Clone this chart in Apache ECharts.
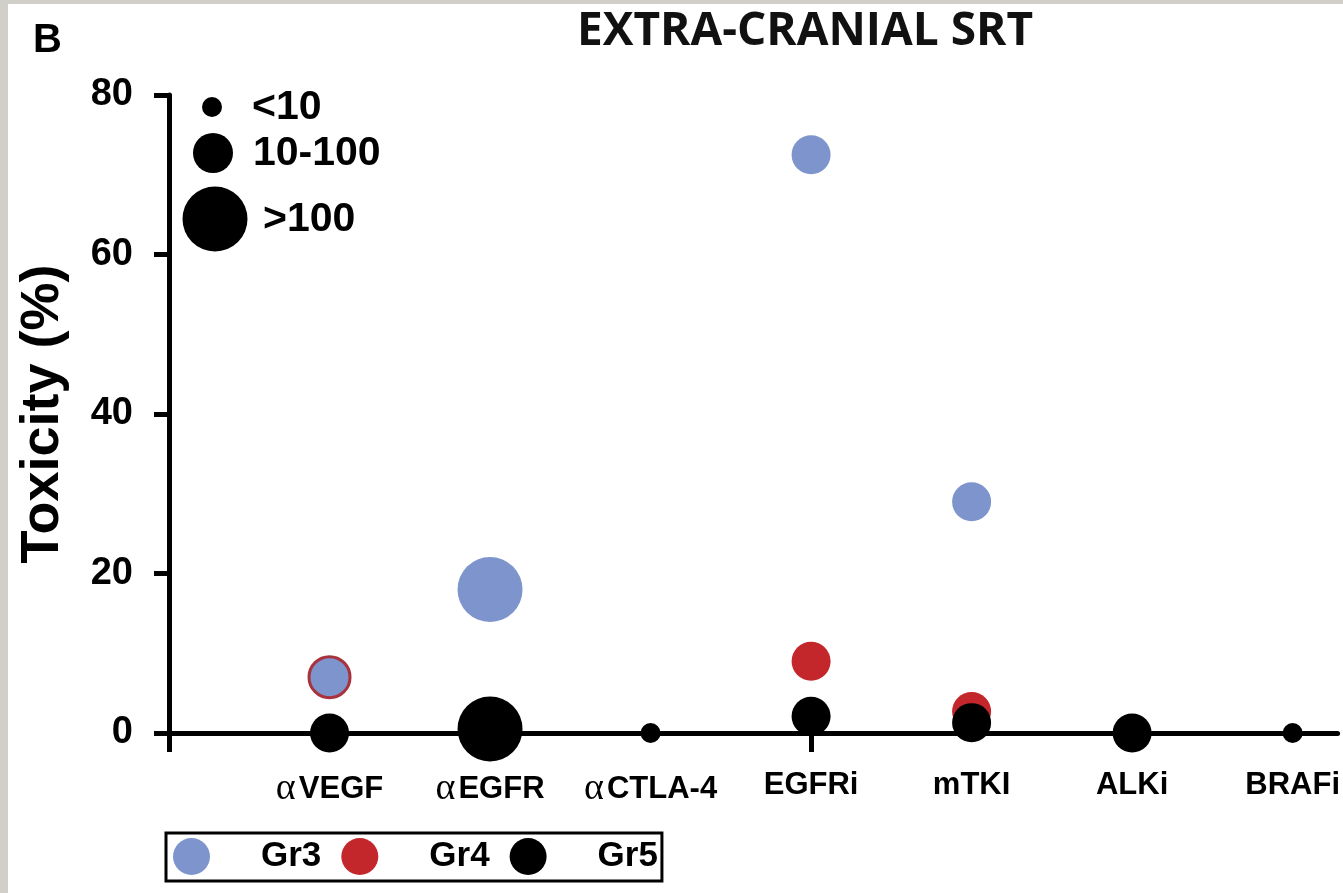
<!DOCTYPE html>
<html>
<head>
<meta charset="utf-8">
<script src="https://cdn.jsdelivr.net/npm/echarts@6/dist/echarts.min.js"></script>
<style>
html,body{margin:0;padding:0;background:#fff;}
#chart{width:1343px;height:893px;}
</style>
</head>
<body>
<div id="chart"></div>
<script>
// ---- data ----
const categories = ['αVEGF', 'αEGFR', 'αCTLA-4', 'EGFRi', 'mTKI', 'ALKi', 'BRAFi'];
const gr3 = [7, 18, null, 72.5, 29, null, null];
const gr3N = ['10-100', '>100', null, '10-100', '10-100', null, null];
const gr4 = [7, null, null, 9, 2.7, null, null];
const gr4N = ['10-100', null, null, '10-100', '10-100', null, null];
const gr5 = [0, 0.5, 0, 2.1, 1.3, 0, 0];
const gr5N = ['10-100', '>100', '<10', '10-100', '10-100', '10-100', '<10'];
const yTicks = [0, 20, 40, 60, 80];
const sizeClasses = ['<10', '10-100', '>100'];
const seriesNames = ['Gr3', 'Gr4', 'Gr5'];

// ---- styles ----
const colors = { Gr3: '#7d95cc', Gr4: '#c3272b', Gr5: '#000000' };
const sizePx = { '<10': 20, '10-100': 39, '>100': 65 };
const legendSizePx = { '<10': 20, '10-100': 40, '>100': 65 };
const SANS = '"Liberation Sans", Arial, sans-serif';

function buildData(vals, ns, overlapVals, overlapColor) {
  const out = [];
  vals.forEach((v, i) => {
    if (v === null) return;
    const item = { value: [i + 1, v], symbolSize: sizePx[ns[i]] };
    if (overlapVals && overlapVals[i] === v) {
      item.symbolSize = sizePx[ns[i]] + 2;
      item.itemStyle = { borderColor: overlapColor, borderWidth: 3 };
    }
    out.push(item);
  });
  return out;
}

const chart = echarts.init(document.getElementById('chart'), null, { renderer: 'canvas' });

// size legend (graphic)
let sy = [107, 153, 219];
let sx = [212, 213, 215];
let tx = [252, 253, 263];
const sizeLegend = [];
sizeClasses.forEach((c, i) => {
  sizeLegend.push({
    type: 'circle', shape: { cx: sx[i], cy: sy[i], r: legendSizePx[c] / 2 },
    style: { fill: '#000' }, z: 10
  });
  sizeLegend.push({
    type: 'text', x: tx[i], y: sy[i] + 1,
    style: { text: c, fill: '#000', font: 'bold 41px ' + SANS, textVerticalAlign: 'middle' }, z: 10
  });
});

const option = {
  backgroundColor: '#ffffff',
  animation: false,
  title: [
    { text: 'B', left: 28, top: 16, textStyle: { fontFamily: SANS, fontWeight: 'bold', fontSize: 40, color: '#000' } },
    { text: 'EXTRA-CRANIAL SRT', left: 800, textAlign: 'center', top: 4,
      textStyle: { fontFamily: '"Open Sans", sans-serif', fontWeight: 'bold', fontSize: 46, color: '#111' } }
  ],
  grid: { left: 169, right: 0, top: 95, bottom: 160, containLabel: false },
  legend: {
    data: seriesNames,
    left: 166, top: 833,
    orient: 'horizontal',
    icon: 'circle',
    itemWidth: 37, itemHeight: 37, itemGap: 20,
    padding: [5, 4, 6, 7],
    borderColor: '#000', borderWidth: 3,
    selectedMode: false,
    textStyle: { fontFamily: SANS, fontWeight: 'bold', fontSize: 35, color: '#000', padding: [0, 0, 0, 46], width: 66 }
  },
  xAxis: {
    type: 'value', min: 0, max: 7.28,
    splitLine: { show: false },
    axisLine: { show: true, onZero: true, lineStyle: { color: '#000', width: 5 } },
    axisTick: { show: true, customValues: [0, 4], length: 19, lineStyle: { color: '#000', width: 5 } },
    axisLabel: {
      show: true, customValues: [1, 2, 3, 4, 5, 6, 7], margin: 37,
      formatter: function (v) {
        const c = categories[Math.round(v) - 1];
        if (!c) return '';
        if (c.charAt(0) === 'α') return '{g|α}{t|' + c.slice(1) + '}';
        return '{t|' + c + '}';
      },
      rich: {
        g: { fontFamily: '"Liberation Serif", serif', fontSize: 38, color: '#000', padding: [0, 3, 0, 0] },
        t: { fontFamily: SANS, fontWeight: 'bold', fontSize: 31, color: '#000' }
      }
    }
  },
  yAxis: {
    type: 'value', min: 0, max: 80, interval: 20,
    name: 'Toxicity (%)', nameLocation: 'middle', nameGap: 99, nameRotate: 90,
    nameTextStyle: { fontFamily: SANS, fontWeight: 'bold', fontSize: 54, color: '#000' },
    splitLine: { show: false },
    axisLine: { show: true, lineStyle: { color: '#000', width: 5 } },
    axisTick: { show: true, length: 15, lineStyle: { color: '#000', width: 5 } },
    axisLabel: {
      margin: 36, fontFamily: SANS, fontWeight: 'bold', fontSize: 38, color: '#000',
      formatter: function (v) { return yTicks.indexOf(v) >= 0 ? String(v) : ''; }
    }
  },
  series: [
    { name: 'Gr3', type: 'scatter', z: 3, clip: false, itemStyle: { color: colors.Gr3, opacity: 1 },
      data: buildData(gr3, gr3N, gr4, '#a8323e') },
    { name: 'Gr4', type: 'scatter', z: 2, clip: false, itemStyle: { color: colors.Gr4, opacity: 1 },
      data: buildData(gr4, gr4N) },
    { name: 'Gr5', type: 'scatter', z: 4, clip: false, itemStyle: { color: colors.Gr5, opacity: 1 },
      data: buildData(gr5, gr5N) }
  ],
  graphic: [
    { type: 'rect', shape: { x: 0, y: 0, width: 1343, height: 4 }, style: { fill: '#d0d0c8' }, z: 20 },
    { type: 'rect', shape: { x: 0, y: 0, width: 8, height: 893 }, style: { fill: '#d0d0c8' }, z: 20 }
  ].concat(sizeLegend)
};

chart.setOption(option);
</script>
</body>
</html>
